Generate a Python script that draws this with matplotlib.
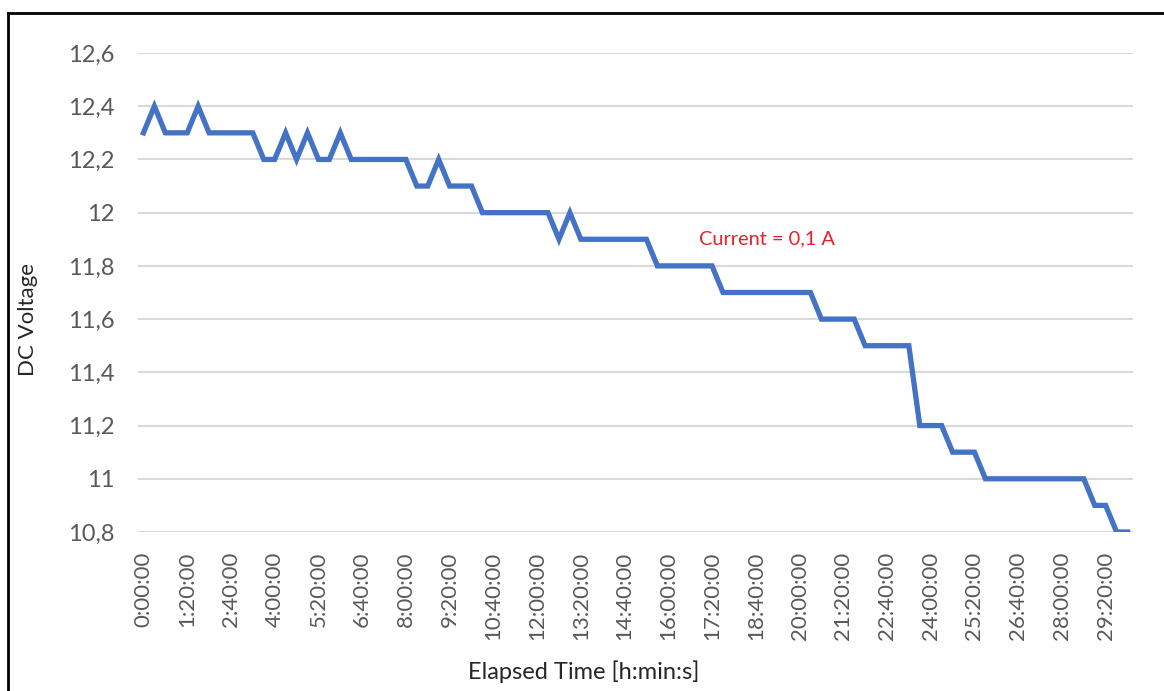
import matplotlib
matplotlib.use("Agg")
import matplotlib.pyplot as plt
from matplotlib.lines import Line2D

plt.rcParams['font.family'] = ['Lato', 'DejaVu Sans']

# one reading every 20 minutes, 0:00:00 .. 30:00:00
times = []
for m in range(0, 30 * 60 + 1, 20):
    times.append(f"{m // 60}:{m % 60:02d}:00")

voltage = [12.3, 12.4, 12.3, 12.3, 12.3, 12.4, 12.3, 12.3, 12.3, 12.3,
           12.3, 12.2, 12.2, 12.3, 12.2, 12.3, 12.2, 12.2, 12.3, 12.2,
           12.2, 12.2, 12.2, 12.2, 12.2, 12.1, 12.1, 12.2, 12.1, 12.1,
           12.1, 12.0, 12.0, 12.0, 12.0, 12.0, 12.0, 12.0, 11.9, 12.0,
           11.9, 11.9, 11.9, 11.9, 11.9, 11.9, 11.9, 11.8, 11.8, 11.8,
           11.8, 11.8, 11.8, 11.7, 11.7, 11.7, 11.7, 11.7, 11.7, 11.7,
           11.7, 11.7, 11.6, 11.6, 11.6, 11.6, 11.5, 11.5, 11.5, 11.5,
           11.5, 11.2, 11.2, 11.2, 11.1, 11.1, 11.1, 11.0, 11.0, 11.0,
           11.0, 11.0, 11.0, 11.0, 11.0, 11.0, 11.0, 10.9, 10.9, 10.8,
           10.8]

y_ticks = [10.8, 11.0, 11.2, 11.4, 11.6, 11.8, 12.0, 12.2, 12.4, 12.6]
y_labels = ["10,8", "11", "11,2", "11,4", "11,6", "11,8", "12", "12,2", "12,4", "12,6"]

x = list(range(len(times)))

fig = plt.figure(figsize=(11.64, 6.91), dpi=100)
ax = fig.add_axes([138 / 1164, 1 - 532 / 691, (1133 - 138) / 1164, (532 - 53) / 691])

ax.plot(x, voltage, color='#4472C4', linewidth=3.8, solid_joinstyle='miter')

ax.set_xlim(-0.5, len(times) - 0.5)
ax.set_ylim(10.8, 12.6)
ax.set_yticks(y_ticks)
ax.set_yticklabels(y_labels)
tick_idx = x[::4]
ax.set_xticks(tick_idx)
ax.set_xticklabels([times[i] for i in tick_idx], rotation=90)

ax.grid(axis='y', color='#D9D9D9', linewidth=1.5)
ax.set_axisbelow(True)
for s in ax.spines.values():
    s.set_visible(False)
ax.tick_params(axis='x', length=0, labelsize=16, colors='#595959', pad=14)
ax.tick_params(axis='y', length=0, labelsize=17, colors='#595959', pad=17)

ax.text(50.8, 11.9, "Current = 0,1 A", color='#E8202A', fontsize=14.4, va='center', ha='left')

fig.text(28 / 1164, 1 - 320 / 691, "DC Voltage", rotation=90, fontsize=16,
         ha='center', va='center', color='#262626')
fig.text(584 / 1164, 1 - 672 / 691, "Elapsed Time [h:min:s]", fontsize=17,
         ha='center', va='center', color='#262626')

# outer frame (only top and left edge are inside the picture)
fig.add_artist(Line2D([8 / 1164, 1.0], [1 - 13 / 691, 1 - 13 / 691],
                      color='black', linewidth=2, transform=fig.transFigure))
fig.add_artist(Line2D([8 / 1164, 8 / 1164], [0.0, 1 - 13 / 691],
                      color='black', linewidth=2, transform=fig.transFigure))

fig.savefig("out.png", dpi=100)
